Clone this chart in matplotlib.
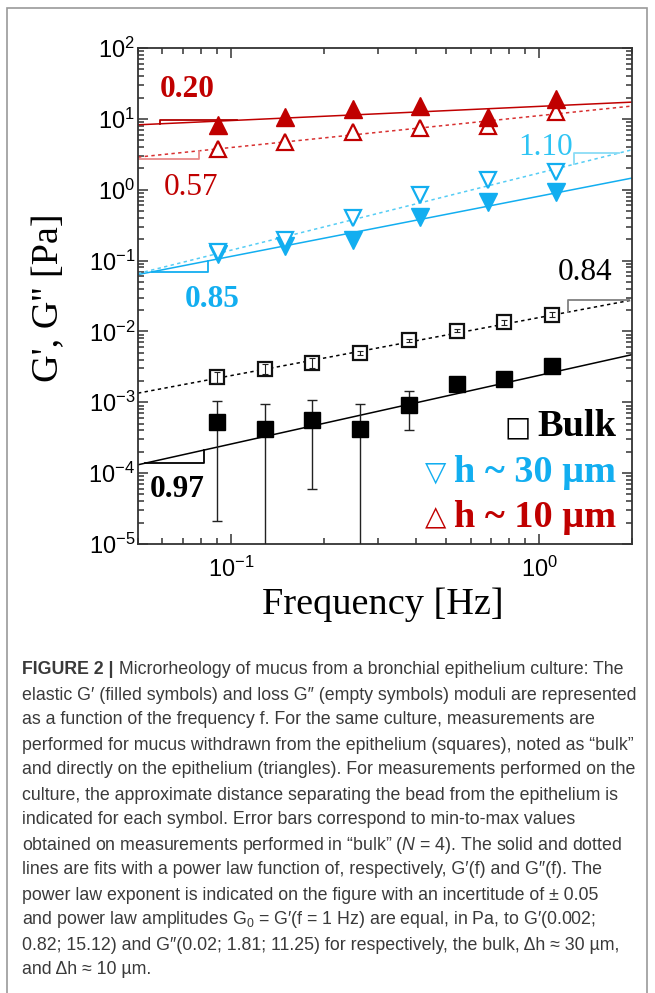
import numpy as np
import matplotlib
matplotlib.use('Agg')
import matplotlib.pyplot as plt
from matplotlib import font_manager
from matplotlib.ticker import LogLocator, NullFormatter
from matplotlib.patches import Rectangle

# bulk mucus (squares)
freq_bulk = [0.090, 0.129, 0.184, 0.263, 0.377, 0.54, 0.77, 1.10]
g1_bulk = [5.3e-4, 4.2e-4, 5.7e-4, 4.2e-4, 9.2e-4, 1.82e-3, 2.15e-3, 3.2e-3]
g1_bulk_lo = [2.1e-5, 1e-7, 6.0e-5, 1e-7, 4.1e-4, 1.65e-3, 1.95e-3, 2.95e-3]
g1_bulk_hi = [1.03e-3, 9.4e-4, 1.06e-3, 9.4e-4, 1.42e-3, 2.0e-3, 2.4e-3, 3.45e-3]
g2_bulk = [2.24e-3, 2.97e-3, 3.57e-3, 4.94e-3, 7.45e-3, 1.03e-2, 1.34e-2, 1.72e-2]
g2_bulk_lo = [1.85e-3, 2.5e-3, 3.0e-3, 4.6e-3, 7.1e-3, 9.8e-3, 1.25e-2, 1.58e-2]
g2_bulk_hi = [2.65e-3, 3.45e-3, 4.15e-3, 5.3e-3, 7.8e-3, 1.08e-2, 1.43e-2, 1.86e-2]

# on the culture (triangles)
freq_cult = [0.091, 0.150, 0.249, 0.41, 0.68, 1.13]
g1_30 = [0.125, 0.163, 0.196, 0.418, 0.673, 0.916]
g2_30 = [0.133, 0.193, 0.396, 0.83, 1.35, 1.80]
g1_10 = [8.2, 10.7, 13.9, 15.3, 10.7, 19.0]
g2_10 = [3.74, 4.65, 6.6, 7.5, 7.85, 12.6]

# power law fits as drawn: exponent, amplitude G(f=1 Hz)
fit_names = ['bulk_g1', 'bulk_g2', 'h30_g1', 'h30_g2', 'h10_g1', 'h10_g2']
fit_exp = [0.97, 0.82, 0.85, 1.09, 0.20, 0.45]
fit_amp = [0.0024, 0.0157, 0.81, 1.72, 15.0, 11.1]

# slope labels
slope_text = ['0.97', '0.84', '0.85', '1.10', '0.20', '0.57']
slope_val = [0.97, 0.84, 0.85, 1.10, 0.20, 0.57]
slope_x = [(0.0528, 0.0818), (1.24, 1.95), (0.0556, 0.0843), (1.30, 1.82), (0.059, 0.1045), (0.05, 0.079)]
slope_kind = ['below', 'above', 'below', 'above', 'above', 'below']
slope_label_xy = [(0.067, 5.8e-5), (1.41, 0.067), (0.087, 0.028), (1.05, 4.0), (0.072, 25.6), (0.074, 1.06)]

caption_lines = [
    "Microrheology of mucus from a bronchial epithelium culture: The",
    "elastic G\u2032 (filled symbols) and loss G\u2033 (empty symbols) moduli are represented",
    "as a function of the frequency f. For the same culture, measurements are",
    "performed for mucus withdrawn from the epithelium (squares), noted as \u201cbulk\u201d",
    "and directly on the epithelium (triangles). For measurements performed on the",
    "culture, the approximate distance separating the bead from the epithelium is",
    "indicated for each symbol. Error bars correspond to min-to-max values",
    "obtained on measurements performed in \u201cbulk\u201d ($N$ = 4). The solid and dotted",
    "lines are fits with a power law function of, respectively, G\u2032(f) and G\u2033(f). The",
    "power law exponent is indicated on the figure with an incertitude of \u00b1 0.05",
    "and power law amplitudes G$_0$ = G\u2032(f = 1 Hz) are equal, in Pa, to G\u2032(0.002;",
    "0.82; 15.12) and G\u2033(0.02; 1.81; 11.25) for respectively, the bulk, \u0394h \u2248 30 \u00b5m,",
    "and \u0394h \u2248 10 \u00b5m.",
]

RED = '#c00000'
RED_L = '#d83030'
BLUE = '#12aef0'
BLUE_L = '#55cdf5'

names = {f.name for f in font_manager.fontManager.ttflist}
if 'Liberation Sans Narrow' in names:
    cap_font, cap_size = 'Liberation Sans Narrow', 14.5
else:
    cap_font, cap_size = 'Liberation Sans', 12.8

plt.rcParams['font.family'] = 'Liberation Sans'
plt.rcParams['axes.unicode_minus'] = False
plt.rcParams['mathtext.fontset'] = 'custom'
plt.rcParams['mathtext.rm'] = cap_font
plt.rcParams['mathtext.it'] = cap_font + ':italic'

W, H = 655, 993
fig = plt.figure(figsize=(W / 100, H / 100), dpi=100)
ax = fig.add_axes([138 / W, 1 - 544 / H, 494 / W, 496 / H])

ff = np.logspace(np.log10(0.05), np.log10(2), 60)
fit_color = {'bulk_g1': 'black', 'bulk_g2': 'black', 'h30_g1': BLUE, 'h30_g2': BLUE_L,
             'h10_g1': RED, 'h10_g2': RED_L}
for name, n, a in zip(fit_names, fit_exp, fit_amp):
    ls = '-' if name.endswith('g1') else (0, (2.2, 2.2))
    ax.plot(ff, a * ff ** n, color=fit_color[name], lw=1.1, ls=ls, zorder=2)

# slope triangles
bracket_color = ['black', '#808080', BLUE, '#8adcf6', '#b00000', '#e88a8a']
for i in range(len(slope_text)):
    n, a = fit_exp[i], fit_amp[i]
    x1, x2 = slope_x[i]
    if slope_kind[i] == 'above':
        y1 = a * x1 ** n
        yt = y1 * (x2 / x1) ** slope_val[i]
        ax.plot([x1, x1, x2], [y1, yt, yt], color=bracket_color[i], lw=1.3, zorder=2)
    else:
        y2 = a * x2 ** n
        yb = y2 / (x2 / x1) ** slope_val[i]
        ax.plot([x1, x2, x2], [yb, yb, y2], color=bracket_color[i], lw=1.3, zorder=2)

label_color = ['black', 'black', BLUE, '#2ec4f4', RED, RED]
label_weight = ['bold', 'normal', 'bold', 'normal', 'bold', 'normal']
for i, t in enumerate(slope_text):
    ax.text(*slope_label_xy[i], t, color=label_color[i], fontsize=22.5,
            fontweight=label_weight[i], family='Liberation Serif',
            ha='center', va='center', zorder=5)

# error bars
g1b = np.array(g1_bulk)
ax.errorbar(freq_bulk, g1b, yerr=[g1b - np.array(g1_bulk_lo), np.array(g1_bulk_hi) - g1b],
            fmt='none', ecolor='#222222', elinewidth=1.0, capsize=3.5, capthick=1.0, zorder=3)

ax.plot(freq_bulk, g1_bulk, 's', color='black', ms=11, zorder=4)
ax.plot(freq_bulk, g2_bulk, 's', mfc='white', mec='#111111', mew=1.6, ms=10.5, zorder=4)
g2b = np.array(g2_bulk)
ax.errorbar(freq_bulk, g2b, yerr=[g2b - np.array(g2_bulk_lo), np.array(g2_bulk_hi) - g2b],
            fmt='none', ecolor='#222222', elinewidth=0.8, capsize=2.2, capthick=0.8, zorder=5)

ax.plot(freq_cult, g1_30, 'v', color=BLUE, ms=12.5, zorder=4)
ax.plot(freq_cult, g2_30, 'v', mfc='white', mec=BLUE, mew=1.6, ms=12, zorder=4)
ax.plot(freq_cult, g2_10, '^', mfc='white', mec=RED, mew=1.6, ms=12, zorder=4)
ax.plot(freq_cult, g1_10, '^', color=RED, ms=12.5, zorder=4)

ax.set_xscale('log')
ax.set_yscale('log')
ax.set_xlim(0.05, 2)
ax.set_ylim(1e-5, 1e2)
ax.yaxis.set_major_locator(LogLocator(base=10, numticks=20))
ax.yaxis.set_minor_locator(LogLocator(base=10, subs=np.arange(2, 10), numticks=40))
ax.xaxis.set_minor_formatter(NullFormatter())
ax.yaxis.set_minor_formatter(NullFormatter())
ax.tick_params(which='both', direction='in', top=True, right=True, color='#333333', width=1.1)
ax.tick_params(which='major', length=7.5, labelsize=17)
ax.tick_params(which='minor', length=4)
ax.tick_params(axis='y', pad=2)
ax.tick_params(axis='x', pad=9)
for s in ax.spines.values():
    s.set_linewidth(1.3)
    s.set_color('#333333')

# legend as text
leg_y = [0.236, 0.145, 0.054]
leg_text = ['Bulk', 'h ~ 30 \u00b5m', 'h ~ 10 \u00b5m']
leg_sym = ['\u25a1', '\u25bd', '\u25b3']
leg_sym_x = [0.768, 0.603, 0.603]
leg_color = ['black', BLUE, RED]
for y, t, s, sx, c in zip(leg_y, leg_text, leg_sym, leg_sym_x, leg_color):
    ax.text(0.968, y, t, transform=ax.transAxes, ha='right', va='center', color=c,
            fontsize=27.5, fontweight='bold', family='Liberation Serif', zorder=6)
    ax.text(sx, y, s, transform=ax.transAxes, ha='center', va='center', color=c,
            fontsize=20, family='DejaVu Sans', zorder=6)

fig.text(383 / W, 1 - 605 / H, 'Frequency [Hz]', ha='center', va='center',
         fontsize=27.5, family='Liberation Serif')
fig.text(49 / W, 1 - 298 / H, "G', G'' [Pa]", ha='center', va='center', rotation=90,
         fontsize=27.5, family='Liberation Serif')

# caption
cap_color = '#3a3a3a'
y0 = 1 - 670 / H
dy = 25.0 / H
t0 = fig.text(22 / W, y0, 'FIGURE 2 |', fontsize=cap_size, family=cap_font,
              fontweight='bold', color=cap_color, va='center')
ax.annotate(' ' + caption_lines[0], xy=(1, 0.5), xycoords=t0, va='center',
            fontsize=cap_size, family=cap_font, color=cap_color, annotation_clip=False)
for k, line in enumerate(caption_lines[1:], start=1):
    fig.text(22 / W, y0 - k * dy, line, fontsize=cap_size, family=cap_font,
             color=cap_color, va='center')

fig.patches.append(Rectangle((7 / W, -0.05), 640 / W, 1.05 - 8 / H, transform=fig.transFigure,
                             fill=False, ec='#9a9a9a', lw=1.2))

fig.savefig('out.png', dpi=100)
